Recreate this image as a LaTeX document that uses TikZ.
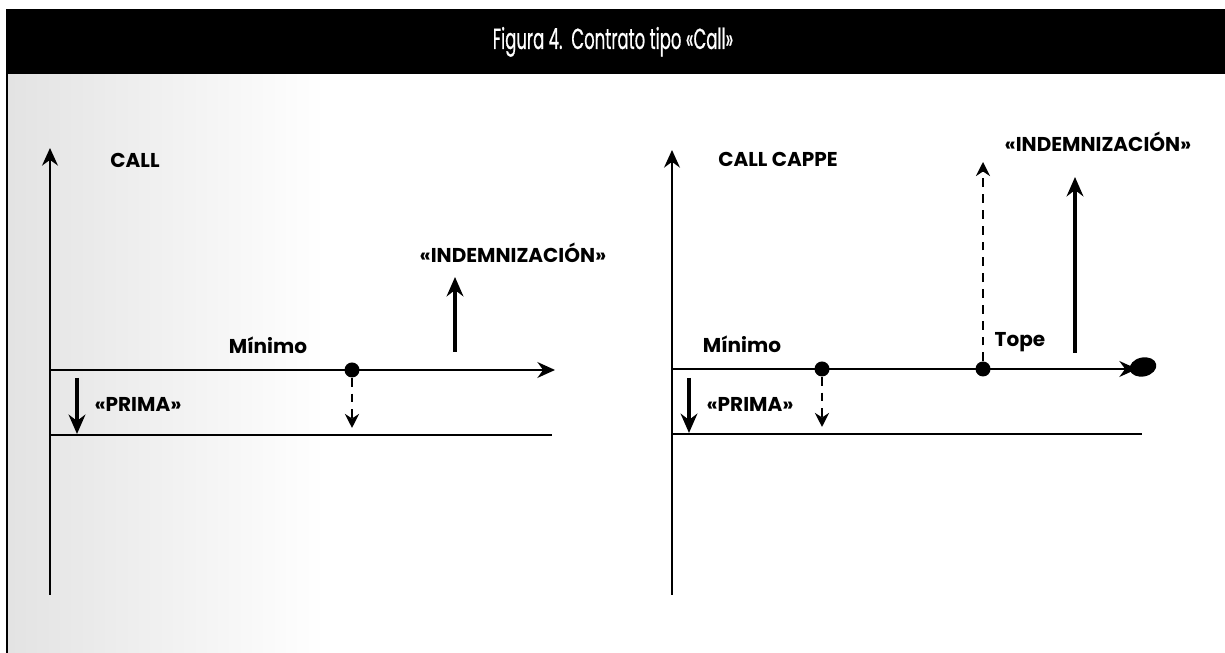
\documentclass[tikz,border=0pt]{standalone}
\usepackage{fontspec}
\setmainfont{Poppins}
\newfontfamily\titlefont[FakeStretch=0.57,FakeBold=0.5]{Poppins}
\usetikzlibrary{graphs}
\usetikzlibrary{arrows.meta}

\begin{document}
\begin{tikzpicture}[
    >={Stealth[length=10pt,width=9pt]},
    lbl/.style={font=\fontsize{11.4}{13}\selectfont\bfseries,anchor=base,inner sep=0pt},
    axis/.style={line width=1.4pt},
    pay/.style={line width=2.8pt,>={Stealth[length=11pt,width=9.5pt]}},
    opt/.style={line width=1.6pt,dash pattern=on 5pt off 4pt,
      >={Stealth[length=8pt,width=8pt]}},
    strikept/.style={circle,fill,inner sep=0pt,minimum size=0.3cm}
  ]
  \useasboundingbox (0,0) rectangle (24.5,13.06);
  \shade[left color=black!11,right color=white] (0.16,0) rectangle (6.5,11.58);
  \fill (0.12,11.58) rectangle (24.5,12.88);
  \draw[line width=1.4pt] (0.14,11.58) -- (0.14,0);
  \node[text=white,font=\titlefont\fontsize{16.5}{18}\selectfont,anchor=base] (title) at (12.26,12.08) {Figura 4.\ \ Contrato tipo «Call»};

  \coordinate (lo) at (1,1.16);
  \coordinate (lt) at (1,10.1);
  \coordinate (lm0) at (1,5.66);
  \coordinate (lm1) at (11.1,5.66);
  \coordinate (lb0) at (1,4.36);
  \coordinate (lb1) at (11.04,4.36);
  \coordinate (lp0) at (1.54,5.5);
  \coordinate (lp1) at (1.54,4.38);
  \coordinate (lkd) at (7.04,4.5);
  \coordinate (li0) at (9.1,6.02);
  \coordinate (li1) at (9.1,7.52);
  \graph{(lo) ->[axis] (lt)};
  \graph{(lm0) ->[axis] (lm1)};
  \graph{(lb0) --[axis] (lb1)};
  \node[strikept] (lk) at (7.04,5.66) {};
  \graph{(lk) ->[opt] (lkd)};
  \graph{(lp0) ->[pay] (lp1)};
  \graph{(li0) ->[pay] (li1)};
  \node[lbl] (call) at (2.7,9.7) {CALL};
  \node[lbl] (lmin) at (5.36,5.98) {Mínimo};
  \node[lbl] (lprima) at (2.76,4.82) {«PRIMA»};
  \node[lbl] (lind) at (10.26,7.8) {«INDEMNIZACIÓN»};

  \coordinate (ro) at (13.44,1.16);
  \coordinate (rt) at (13.44,10.06);
  \coordinate (rm0) at (13.44,5.68);
  \coordinate (rm1) at (22.74,5.68);
  \coordinate (rb0) at (13.44,4.38);
  \coordinate (rb1) at (22.84,4.38);
  \coordinate (rp0) at (13.78,5.5);
  \coordinate (rp1) at (13.78,4.4);
  \coordinate (rkd) at (16.44,4.52);
  \coordinate (rcu) at (19.66,9.82);
  \coordinate (ri0) at (21.5,6.0);
  \coordinate (ri1) at (21.5,9.52);
  \graph{(ro) ->[axis] (rt)};
  \graph{(rm0) ->[axis] (rm1)};
  \graph{(rb0) --[axis] (rb1)};
  \fill[rotate around={12:(22.86,5.72)}] (22.86,5.72) ellipse (0.27 and 0.19);
  \node[strikept] (rk) at (16.44,5.68) {};
  \node[strikept] (rc) at (19.66,5.68) {};
  \graph{(rk) ->[opt] (rkd)};
  \graph{(rc) ->[opt] (rcu)};
  \graph{(rp0) ->[pay] (rp1)};
  \graph{(ri0) ->[pay] (ri1)};
  \node[lbl] (cappe) at (15.56,9.72) {CALL CAPPE};
  \node[lbl] (rmin) at (14.84,6.0) {Mínimo};
  \node[lbl] (rprima) at (15.0,4.82) {«PRIMA»};
  \node[lbl] (tope) at (20.4,6.12) {Tope};
  \node[lbl] (rind) at (21.96,10.02) {«INDEMNIZACIÓN»};
\end{tikzpicture}
\end{document}
